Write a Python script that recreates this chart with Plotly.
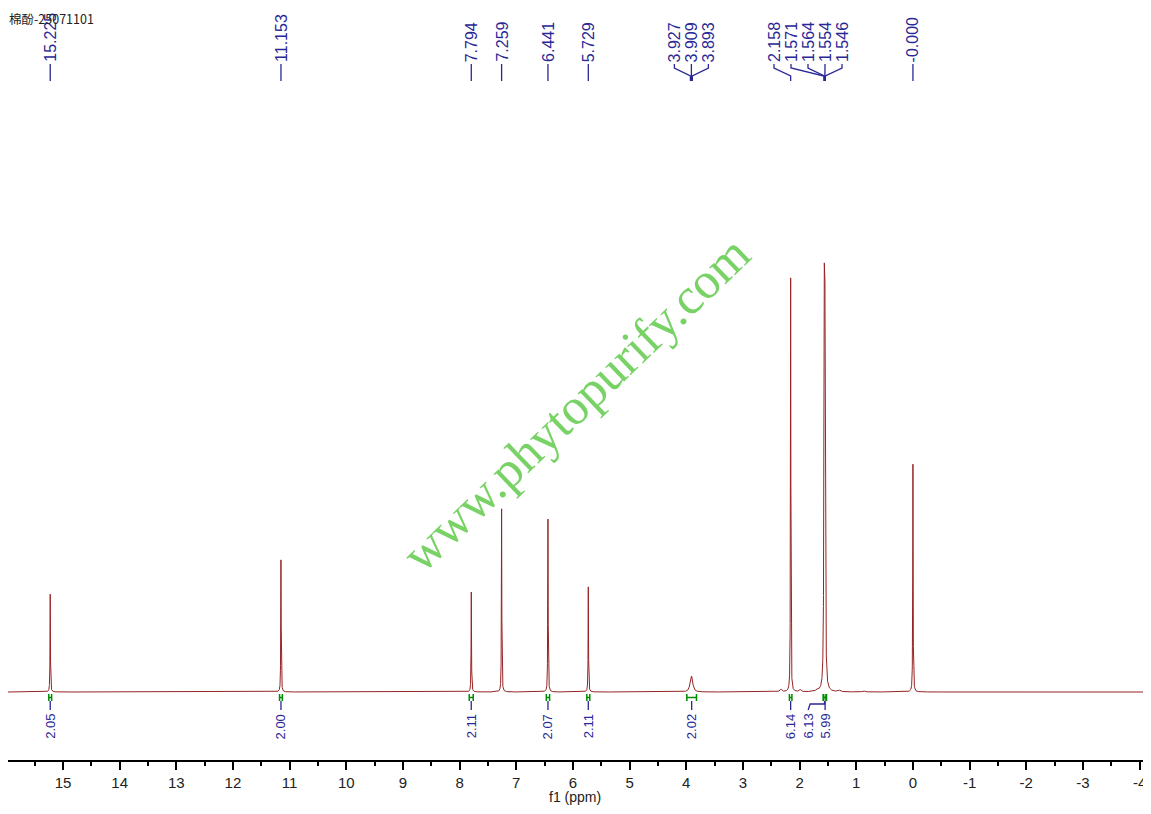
import numpy as np
import plotly.graph_objects as go

# ---------------- data ----------------
title_text = "棉酚-25071101"

# peak groups: chemical shifts (ppm), relative line weights, group height (% of tallest), half-width (ppm)
group_shifts = [[15.225], [11.153], [7.794], [7.259], [6.441], [5.729],
                [3.927, 3.909, 3.893], [2.158], [1.571, 1.564, 1.554, 1.546], [0.000],
                [2.33], [1.99], [1.69], [1.30], [0.87]]
group_weights = [[1], [1], [1], [1], [1], [1],
                 [1, 2, 1], [1], [1, 3, 3, 1], [1],
                 [1], [1], [1], [1], [1]]
group_heights = [22.8, 30.8, 23.3, 42.7, 40.3, 24.5,
                 3.7, 96.5, 100.0, 53.1,
                 0.6, 0.5, 0.5, 0.4, 0.3]
group_hwhm = [0.004, 0.004, 0.004, 0.004, 0.004, 0.004,
              0.02, 0.004, 0.006, 0.004,
              0.02, 0.02, 0.02, 0.02, 0.02]

# peak picking labels
peak_labels = ["15.225", "11.153", "7.794", "7.259", "6.441", "5.729",
               "3.927", "3.909", "3.893", "2.158", "1.571", "1.564", "1.554", "1.546", "-0.000"]

# integrals
int_values = ["2.05", "2.00", "2.11", "2.07", "2.11", "2.02", "6.14", "6.13", "5.99"]
int_from = [15.250, 11.178, 7.830, 6.470, 5.755, 3.990, 2.180, 1.585, 1.575]
int_to = [15.200, 11.128, 7.760, 6.412, 5.703, 3.820, 2.136, 1.535, 1.525]

x_ticks = list(range(15, -5, -1))
x_title = "f1 (ppm)"
watermark = "www.phytopurify.com"

# ---------------- layout constants (page pixels; the page body adds an 8px offset) ----------------
OFF = 8
W, H = 1151 - OFF, 814 - OFF
ML, MR, MT = 0, 8, 0
PLOT_BOTTOM = 760                      # page row of the x axis line
PW = W - ML - MR
PH = PLOT_BOTTOM - OFF - MT
MB = H - MT - PH
X_RANGE = [15.97, -4.06]
BASE_PX = 692                          # baseline page row
PX_PER_UNIT = 4.29
Y_RANGE = [-(PLOT_BOTTOM - BASE_PX) / PX_PER_UNIT, (BASE_PX - OFF) / PX_PER_UNIT]
PPM_PER_PX = (X_RANGE[0] - X_RANGE[1]) / PW

LINE_COL = "rgb(150,35,35)"
LABEL_COL = "rgb(40,40,150)"
INT_COL = "rgb(0,140,0)"


def py(p):
    """page row -> paper y"""
    return 1 - (p - OFF - MT) / PH


def px(p):
    """page column -> paper x"""
    return (p - OFF - ML) / PW


# ---------------- spectrum ----------------
x = np.round(np.arange(int(round(X_RANGE[0] * 1000)), int(round(X_RANGE[1] * 1000)) - 1, -1) / 1000.0, 3)
y = np.zeros_like(x)
for shifts, weights, h, w in zip(group_shifts, group_weights, group_heights, group_hwhm):
    g = np.zeros_like(x)
    for s, wt in zip(shifts, weights):
        g += wt / (1 + ((x - s) / w) ** 2)
    y += g / g.max() * h

fig = go.Figure()
fig.add_trace(go.Scatter(x=x, y=y, mode="lines", line=dict(color=LINE_COL, width=1),
                         hoverinfo="skip", showlegend=False))

shapes = []
annotations = []

# ---------------- peak labels (top) ----------------
vals = [float(s) for s in peak_labels]
gap = 17 * PPM_PER_PX


def cl_pos(cl):
    mid = (vals[cl[0]] + vals[cl[-1]]) / 2
    k = len(cl)
    return [mid + gap * ((k - 1) / 2 - j) for j in range(k)]


clusters = [[i] for i in range(len(vals))]
merged = True
while merged:
    merged = False
    for i in range(len(clusters) - 1):
        a = cl_pos(clusters[i])
        b = cl_pos(clusters[i + 1])
        if a[-1] - b[0] < gap - 1e-9:
            clusters[i] = clusters[i] + clusters[i + 1]
            del clusters[i + 1]
            merged = True
            break

label_pos = [0.0] * len(vals)
for cl in clusters:
    for idx, p in zip(cl, cl_pos(cl)):
        label_pos[idx] = p

TXT_BOTTOM = 64
for s, v, p in zip(peak_labels, vals, label_pos):
    annotations.append(dict(x=p, y=py(TXT_BOTTOM), xref="x", yref="paper", text=s,
                            textangle=-90, showarrow=False, xanchor="center", yanchor="bottom",
                            font=dict(family="Liberation Sans, Arial", size=16, color=LABEL_COL)))
    if abs(p - v) < 1e-9:
        path = f"M {p},{py(TXT_BOTTOM)} L {p},{py(81)}"
    else:
        path = f"M {p},{py(TXT_BOTTOM)} L {p},{py(68)} L {v},{py(76)} L {v},{py(81)}"
    shapes.append(dict(type="path", path=path, xref="x", yref="paper",
                       line=dict(color=LABEL_COL, width=1.3)))

# ---------------- integrals (bottom) ----------------
centers = [(a + b) / 2 for a, b in zip(int_from, int_to)]
order = sorted(range(len(centers)), key=lambda i: centers[i])
int_pos = [0.0] * len(centers)
prev = None
for i in order:
    p = centers[i]
    if prev is not None and p < prev + gap:
        p = prev + gap
    int_pos[i] = p
    prev = p

for val, f, t, c, p in zip(int_values, int_from, int_to, centers, int_pos):
    shapes.append(dict(type="path", xref="x", yref="paper",
                       path=(f"M {f},{py(694)} L {f},{py(701)} M {f},{py(697.5)} L {t},{py(697.5)} "
                             f"M {t},{py(694)} L {t},{py(701)}"),
                       line=dict(color=INT_COL, width=1.5)))
    if abs(p - c) < 1e-9:
        path = f"M {c},{py(701)} L {c},{py(710)}"
    else:
        path = f"M {c},{py(701)} L {c},{py(704)} L {p - 2 * PPM_PER_PX},{py(704)} L {p},{py(710)}"
    shapes.append(dict(type="path", path=path, xref="x", yref="paper",
                       line=dict(color=LABEL_COL, width=1.3)))
    annotations.append(dict(x=p, y=py(712), xref="x", yref="paper", text=val,
                            textangle=-90, showarrow=False, xanchor="center", yanchor="top",
                            font=dict(family="Liberation Sans, Arial", size=13, color=LABEL_COL)))

# ---------------- title, axis title, watermark ----------------
annotations.append(dict(x=px(7), y=py(18), xref="paper", yref="paper", text=title_text,
                        showarrow=False, xanchor="left", yanchor="middle",
                        font=dict(family="Noto Sans CJK SC", size=12.5, color="#222222")))
annotations.append(dict(x=px(575), y=py(797), xref="paper", yref="paper", text=x_title,
                        showarrow=False, xanchor="center", yanchor="middle",
                        font=dict(family="Liberation Sans, Arial", size=14, color="#222222")))
annotations.append(dict(x=px(576), y=py(404), xref="paper", yref="paper", text=watermark,
                        showarrow=False, xanchor="center", yanchor="middle", textangle=-43.8,
                        font=dict(family="Liberation Serif, Times New Roman, serif", size=51,
                                  color="rgba(105,205,85,0.9)")))

fig.update_layout(
    width=W, height=H,
    margin=dict(l=ML, r=MR, t=MT, b=MB, pad=0),
    paper_bgcolor="white", plot_bgcolor="white",
    showlegend=False,
    shapes=shapes,
    annotations=annotations,
    xaxis=dict(range=X_RANGE, tickmode="array", tickvals=x_ticks,
               ticktext=[str(v) for v in x_ticks],
               showgrid=False, zeroline=False, showline=True, linecolor="black", linewidth=1.5,
               ticks="outside", ticklen=8, tickwidth=1.5, tickcolor="black",
               minor=dict(ticks="outside", ticklen=4, tickwidth=1.5, tickcolor="black", dtick=0.5,
                          tick0=0.5, showgrid=False),
               tickfont=dict(family="Liberation Sans, Arial", size=15, color="#222222")),
    yaxis=dict(range=Y_RANGE, visible=False, fixedrange=True),
)

fig.write_html("out.html")
